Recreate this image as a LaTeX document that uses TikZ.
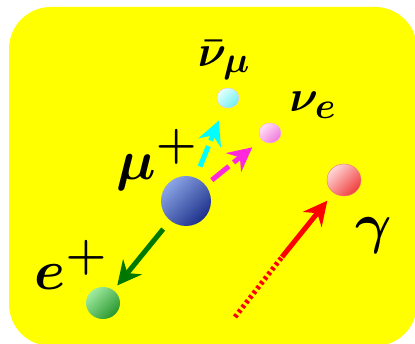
\documentclass[tikz,border=0pt]{standalone}
\usepackage{amsmath,amssymb}
\usepackage{xcolor}
\usetikzlibrary{shapes.geometric, arrows.meta}

\definecolor{bgyellow}{RGB}{255,255,0}
\definecolor{mulight}{RGB}{140,165,230}
\definecolor{mudark}{RGB}{28,48,138}
\definecolor{elight}{RGB}{160,235,160}
\definecolor{edark}{RGB}{40,150,45}
\definecolor{numlight}{RGB}{230,255,255}
\definecolor{numdark}{RGB}{110,240,240}
\definecolor{nuelight}{RGB}{255,225,245}
\definecolor{nuedark}{RGB}{240,120,220}
\definecolor{glight}{RGB}{255,215,215}
\definecolor{gdark}{RGB}{240,60,60}
\definecolor{arrgreen}{RGB}{0,120,0}
\definecolor{arrcyan}{RGB}{0,255,255}
\definecolor{arrpink}{RGB}{255,40,220}
\definecolor{arrred}{RGB}{255,0,0}

\newcommand{\bigsym}[1]{\scalebox{2.25}{\Huge\boldmath$#1$}}
\newcommand{\smallsym}[1]{\scalebox{1.77}{\Huge\boldmath$#1$}}

\begin{document}
\begin{tikzpicture}[x=1pt, y=-1pt]
    \tikzstyle{ball} = [ellipse, inner sep=0pt]
    \tikzstyle{line} = [draw, line width=5pt, -{Stealth[length=24pt, width=24pt, inset=8pt]}]
    \tikzstyle{dashline} = [line, dash pattern=on 22pt off 6pt]
    \tikzstyle{sym} = [inner sep=0pt]

    \useasboundingbox (0,0) rectangle (415,344);
    \fill [bgyellow, rounded corners=42pt] (9,7) rectangle (417,346);

    \node [ball, minimum width=50pt, minimum height=50pt, top color=mulight, bottom color=mudark, shading angle=45] (mu) at (186,201) {};
    \node [ball, minimum width=34pt, minimum height=32pt, top color=elight, bottom color=edark, shading angle=45] (ep) at (103,303) {};
    \node [ball, minimum width=22pt, minimum height=20pt, top color=numlight, bottom color=numdark, shading angle=45, draw=nuedark!50, thin] (numu) at (228,98) {};
    \node [ball, minimum width=22pt, minimum height=20pt, top color=nuelight, bottom color=nuedark, shading angle=45, draw=nuedark!60, thin] (nue) at (270,133) {};
    \node [ball, minimum width=34pt, minimum height=32pt, top color=glight, bottom color=gdark, shading angle=45, draw=gdark!70, thin] (gam) at (344,180) {};

    \node [sym] (mulabel) at (157,160) {\bigsym{\mu^{+}}};
    \node [sym] (elabel) at (71,265) {\bigsym{e^{+}}};
    \node [sym] (numulabel) at (224,60) {\smallsym{\bar{\nu}_{\mu}}};
    \node [sym] (nuelabel) at (313,105) {\smallsym{\nu_{e}}};
    \node [sym] (gamlabel) at (374,236) {\bigsym{\gamma}};

    \coordinate (gsrc) at (235,317);
    \coordinate (gmid) at (282,257);

    \path [line, arrgreen, shorten <=11pt, shorten >=6pt] (mu) -- (ep);
    \path [dashline, arrcyan, shorten <=12pt, shorten >=14pt] (mu) -- (numu);
    \path [dashline, arrpink, shorten <=8pt, shorten >=12pt] (mu) -- (nue);
    \draw [arrred, line width=5pt, dash pattern=on 3pt off 3pt] (gsrc) -- (gmid);
    \path [line, arrred, shorten >=10pt] (gmid) -- (gam);
\end{tikzpicture}
\end{document}
